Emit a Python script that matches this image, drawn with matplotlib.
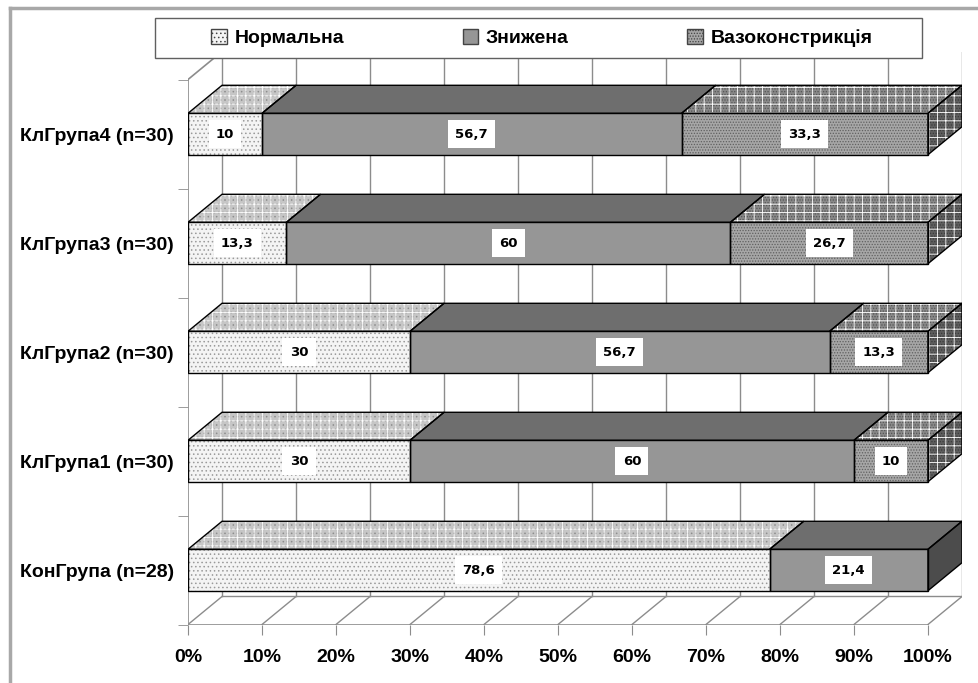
import matplotlib
matplotlib.use("Agg")
import matplotlib.pyplot as plt
from matplotlib.patches import Polygon, Rectangle, Patch
from matplotlib.lines import Line2D

# data (bottom group first)
groups = ["КонГрупа (n=28)", "КлГрупа1 (n=30)", "КлГрупа2 (n=30)",
          "КлГрупа3 (n=30)", "КлГрупа4 (n=30)"]
normal = [78.6, 30, 30, 13.3, 10]
reduced = [21.4, 60, 56.7, 60, 56.7]
vaso = [0, 10, 13.3, 26.7, 33.3]
series_names = ["Нормальна", "Знижена", "Вазоконстрикція"]
pct_ticks = list(range(0, 101, 10))

plt.rcParams["hatch.linewidth"] = 0.6
LBL_FONT = ["Liberation Sans Narrow", "Liberation Sans", "DejaVu Sans"]

W, H = 979, 683
fig = plt.figure(figsize=(W / 100, H / 100), dpi=100)

DX = 4.6     # 3d depth along x (percent units)
DY = 0.257   # 3d depth along y (category units)
HB = 0.19    # half height of a bar

ax = fig.add_axes([188 / W, (H - 624.5) / H, 774 / W, 573 / H])
ax.set_xlim(0, 100 + DX)
ax.set_ylim(-0.5, 4.5 + DY)
ax.patch.set_visible(False)
for s in ax.spines.values():
    s.set_visible(False)

# (front, top, side) -> (facecolor, hatch, hatch colour, white grid)
styles = [
    {"front": ("#f4f4f4", "....", "#9a9a9a", False),
     "top": ("#c6c6c6", "....", "#8e8e8e", True),
     "side": ("#9a9a9a", "....", "#707070", True)},
    {"front": ("#969696", None, None, False),
     "top": ("#6e6e6e", None, None, False),
     "side": ("#4c4c4c", None, None, False)},
    {"front": ("#a6a6a6", "......", "#606060", False),
     "top": ("#888888", "......", "#555555", True),
     "side": ("#5e5e5e", "......", "#3c3c3c", True)},
]


def face(pts, style, z=3):
    fc, hatch, hc, grid = style
    ax.add_patch(Polygon(pts, closed=True, facecolor=fc,
                         edgecolor=hc if hatch else "none", hatch=hatch,
                         lw=0, zorder=z))
    if grid:
        ax.add_patch(Polygon(pts, closed=True, facecolor="none",
                             edgecolor="white", hatch="++", lw=0, zorder=z))
    ax.add_patch(Polygon(pts, closed=True, facecolor="none",
                         edgecolor="black", lw=1.0, zorder=z + 0.1))


# walls and grid
gc = "#8c8c8c"
for t in pct_ticks:
    ax.plot([t + DX, t + DX], [-0.5 + DY, 4.5 + DY], color=gc, lw=1, zorder=1)
    ax.plot([t, t + DX], [-0.5, -0.5 + DY], color=gc, lw=1, zorder=1)
ax.plot([DX, 100 + DX], [-0.5 + DY, -0.5 + DY], color=gc, lw=1, zorder=1)
ax.plot([0, 100], [-0.5, -0.5], color=gc, lw=1.2, zorder=1)
ax.plot([0, 0], [-0.5, 4.5], color=gc, lw=1.2, zorder=1)
ax.plot([0, DX], [4.5, 4.5 + DY], color=gc, lw=1.2, zorder=1)

# bars
for k in range(len(groups)):
    vals = [normal[k], reduced[k], vaso[k]]
    y0, y1 = k - HB, k + HB
    left = 0
    last = max(i for i, v in enumerate(vals) if v > 0)
    for i, v in enumerate(vals):
        if v <= 0:
            continue
        right = left + v
        face([(left, y0), (right, y0), (right, y1), (left, y1)], styles[i]["front"])
        face([(left, y1), (right, y1), (right + DX, y1 + DY), (left + DX, y1 + DY)],
             styles[i]["top"])
        if i == last:
            face([(right, y0), (right + DX, y0 + DY), (right + DX, y1 + DY), (right, y1)],
                 styles[i]["side"])
        lbl = f"{v:g}".replace(".", ",")
        ax.text(left + v / 2, k, lbl, ha="center", va="center", fontsize=9.5,
                fontweight="bold", family="DejaVu Sans", zorder=6,
                bbox=dict(boxstyle="square,pad=0.55", fc="white", ec="none"))
        left = right

# axes ticks
ax.set_xticks(pct_ticks)
ax.set_xticklabels([f"{t}%" for t in pct_ticks], family=LBL_FONT,
                   fontweight="bold", fontsize=14)
ax.tick_params(axis="x", length=7, color=gc, pad=11)
ax.set_yticks(range(len(groups)))
ax.set_yticklabels(groups, family=LBL_FONT, fontweight="bold", fontsize=14)
ax.tick_params(axis="y", which="major", length=0, pad=10)
ax.set_yticks([k - 0.5 for k in range(len(groups) + 1)], minor=True)
ax.tick_params(axis="y", which="minor", length=7, color=gc)

# legend
fig.add_artist(Rectangle((155 / W, (H - 58) / H), 767 / W, 40 / H,
                         transform=fig.transFigure, fc="white", ec="#606060",
                         lw=1, zorder=4))
handles = [Patch(facecolor=styles[i]["front"][0], hatch=styles[i]["front"][1],
                 edgecolor="#444444") for i in range(3)]
leg = fig.legend(handles, series_names, loc="center",
                 bbox_to_anchor=(194 / W, (H - 58) / H, 696 / W, 40 / H),
                 mode="expand", ncol=3, frameon=False,
                 prop={"family": LBL_FONT, "weight": "bold", "size": 14},
                 handlelength=0.8, handleheight=0.8, handletextpad=0.4)
leg.set_zorder(5)

# outer chart border
fig.add_artist(Line2D([10 / W, 10 / W], [0, (H - 8) / H], color="#a8a8a8", lw=2.5))
fig.add_artist(Line2D([10 / W, 1], [(H - 8) / H, (H - 8) / H], color="#a8a8a8", lw=2.5))

fig.savefig("out.png", dpi=100)
